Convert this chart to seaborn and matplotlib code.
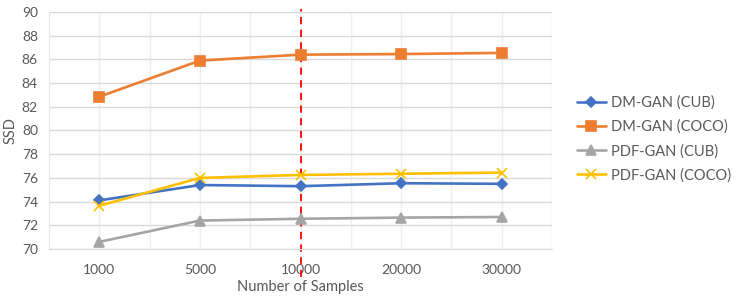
import pandas as pd
import matplotlib.pyplot as plt
import seaborn as sns

samples = ['1000', '5000', '10000', '20000', '30000']
dm_gan_cub = [74.1, 75.4, 75.3, 75.55, 75.5]
dm_gan_coco = [82.85, 85.9, 86.4, 86.45, 86.55]
pdf_gan_cub = [70.6, 72.4, 72.55, 72.65, 72.7]
pdf_gan_coco = [73.65, 76.0, 76.25, 76.35, 76.45]
series_names = ['DM-GAN (CUB)', 'DM-GAN (COCO)', 'PDF-GAN (CUB)', 'PDF-GAN (COCO)']

sns.set_style('white')
plt.rcParams['font.family'] = ['Lato', 'DejaVu Sans']

rows = []
for name, vals in zip(series_names, [dm_gan_cub, dm_gan_coco, pdf_gan_cub, pdf_gan_coco]):
    for s, v in zip(samples, vals):
        rows.append({'samples': s, 'ssd': v, 'serie': name})
df = pd.DataFrame(rows)

colores = {'DM-GAN (CUB)': '#4472C4', 'DM-GAN (COCO)': '#ED7D31',
           'PDF-GAN (CUB)': '#A5A5A5', 'PDF-GAN (COCO)': '#FFC000'}
marcadores = {'DM-GAN (CUB)': ('D', 5.5), 'DM-GAN (COCO)': ('s', 7),
              'PDF-GAN (CUB)': ('^', 7), 'PDF-GAN (COCO)': ('x', 7)}

fig = plt.figure(figsize=(7.47, 2.99), dpi=100)
ax = fig.add_axes([49 / 747, 1 - 249 / 299, 503 / 747, 237 / 299])

for name in series_names:
    m, ms = marcadores[name]
    sns.lineplot(data=df[df['serie'] == name], x='samples', y='ssd', sort=False,
                 color=colores[name], marker=m, markersize=ms, markeredgewidth=1.2,
                 markeredgecolor=colores[name], linewidth=1.9, label=name, ax=ax)

# grid de Excel: horizontales y verticales en cada media categoria
ax.set_xlim(-0.5, len(samples) - 0.5)
ax.set_ylim(70, 90)
ax.set_yticks(range(70, 91, 2))
ax.set_xticks(range(len(samples)))
ax.set_xticklabels(samples)
ax.set_xticks([i - 0.5 for i in range(len(samples) + 1)], minor=True)
ax.grid(axis='y', color='#D9D9D9', linewidth=1)
ax.grid(axis='x', which='both', color='#EFEFEF', linewidth=1)
ax.set_axisbelow(True)
for lado in ['top', 'right']:
    ax.spines[lado].set_visible(False)
ax.spines['left'].set_color('#E6E6E6')
ax.spines['bottom'].set_color('#D9D9D9')
ax.tick_params(axis='both', which='both', length=0, labelsize=10, labelcolor='#595959')
ax.tick_params(axis='x', pad=11)
ax.tick_params(axis='y', pad=8)

ax.axvline(samples.index('10000'), ymin=-0.118, ymax=1.013, color='red',
           linestyle=(0, (4, 3)), linewidth=1.3, clip_on=False, zorder=1)

ax.set_xlabel('Number of Samples', fontsize=10.5, color='#595959', labelpad=3)
ax.set_ylabel('SSD', fontsize=10.5, color='#595959')
ax.yaxis.set_label_coords(-0.062, 0.5)

handles, labels = ax.get_legend_handles_labels()
ax.legend(handles, labels, loc='center left', bbox_to_anchor=(571 / 747, 1 - 139 / 299),
          bbox_transform=fig.transFigure, frameon=False, fontsize=10.5,
          labelcolor='#595959', handlelength=2.0, handletextpad=0.35,
          labelspacing=0.68, borderaxespad=0)

fig.savefig('out.png', dpi=100)
